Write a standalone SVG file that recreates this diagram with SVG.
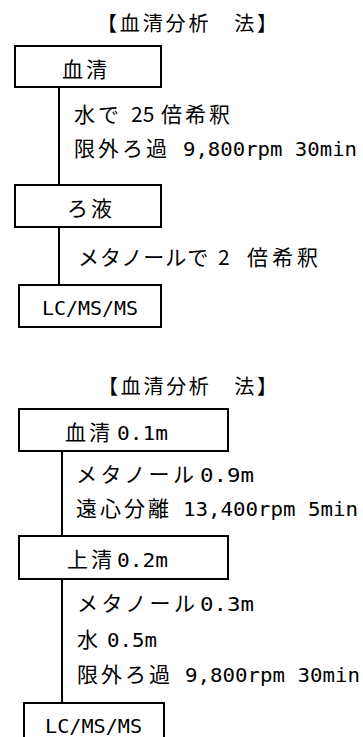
<svg xmlns="http://www.w3.org/2000/svg" width="363" height="737" viewBox="0 0 363 737">
<style>
.box{fill:#fff;stroke:#000;stroke-width:2}
.ln{stroke:#000;stroke-width:2;fill:none}
.jp{font-family:"Noto Sans CJK JP","Noto Sans",sans-serif;font-size:21px;fill:#000;letter-spacing:3px}
.mo{font-family:"DejaVu Sans Mono","Liberation Mono",monospace;font-size:20px;fill:#000}
.tt{font-family:"Noto Sans CJK JP","Noto Sans",sans-serif;font-size:20px;fill:#000}
</style>
<rect width="363" height="737" fill="#fff"/>
<g id="connectors">
<line class="ln" x1="59" y1="88" x2="59" y2="184"/>
<line class="ln" x1="59" y1="228" x2="59" y2="285"/>
<line class="ln" x1="62" y1="452" x2="62" y2="535"/>
<line class="ln" x1="62" y1="580" x2="62" y2="702"/>
</g>
<g id="title1"><text class="tt" x="97" y="31" textLength="180" lengthAdjust="spacing">【血清分析　法】</text></g>
<g id="node-serum1">
<rect class="box" x="15" y="46" width="146" height="41"/>
<text class="jp" x="62" y="77">血清</text>
</g>
<g id="step1">
<text class="jp" x="74" y="122">水で</text><text class="jp" x="131" y="122" style="letter-spacing:0">25</text><text class="jp" x="161" y="122">倍希釈</text>
<text class="jp" x="74" y="156">限外ろ過</text><text class="mo" x="183" y="156" textLength="174" lengthAdjust="spacingAndGlyphs">9,800rpm 30min</text>
</g>
<g id="node-filtrate">
<rect class="box" x="15" y="185" width="146" height="42"/>
<text class="jp" x="67" y="216">ろ液</text>
</g>
<g id="step2">
<text class="jp" x="78" y="265" style="letter-spacing:1px">メタノールで</text><text class="jp" x="218" y="265" style="letter-spacing:0">2</text><text class="jp" x="247" y="265" style="letter-spacing:4px">倍希釈</text>
</g>
<g id="node-lcms1">
<rect class="box" x="19" y="285" width="142" height="42"/>
<text class="mo" x="42" y="315" textLength="96" lengthAdjust="spacingAndGlyphs">LC/MS/MS</text>
</g>
<g id="title2"><text class="tt" x="98" y="394" textLength="179" lengthAdjust="spacing">【血清分析　法】</text></g>
<g id="node-serum2">
<rect class="box" x="19" y="409" width="209" height="42"/>
<text class="jp" x="65" y="440">血清</text><text class="mo" x="117" y="440" textLength="51" lengthAdjust="spacingAndGlyphs">0.1m</text>
</g>
<g id="step3">
<text class="jp" x="76" y="482" style="letter-spacing:3.4px">メタノール</text><text class="mo" x="200" y="482" textLength="54" lengthAdjust="spacingAndGlyphs">0.9m</text>
<text class="jp" x="76" y="516">遠心分離</text><text class="mo" x="183" y="516" textLength="175" lengthAdjust="spacingAndGlyphs">13,400rpm 5min</text>
</g>
<g id="node-supernatant">
<rect class="box" x="19" y="536" width="209" height="43"/>
<text class="jp" x="67" y="567">上清</text><text class="mo" x="117" y="567" textLength="51" lengthAdjust="spacingAndGlyphs">0.2m</text>
</g>
<g id="step4">
<text class="jp" x="77" y="611" style="letter-spacing:3.4px">メタノール</text><text class="mo" x="200" y="611" textLength="54" lengthAdjust="spacingAndGlyphs">0.3m</text>
<text class="jp" x="77" y="647">水</text><text class="mo" x="107" y="647" textLength="50" lengthAdjust="spacingAndGlyphs">0.5m</text>
<text class="jp" x="77" y="682">限外ろ過</text><text class="mo" x="185" y="682" textLength="175" lengthAdjust="spacingAndGlyphs">9,800rpm 30min</text>
</g>
<g id="node-lcms2">
<rect class="box" x="24" y="703" width="140" height="50"/>
<text class="mo" x="45" y="733" textLength="97" lengthAdjust="spacingAndGlyphs">LC/MS/MS</text>
</g>
</svg>
